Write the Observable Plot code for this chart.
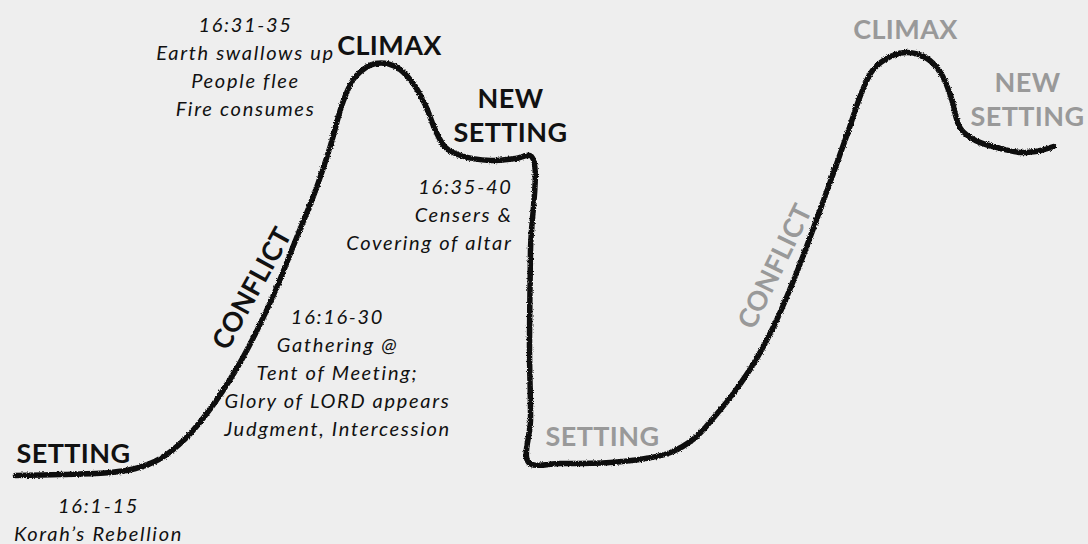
<!DOCTYPE html>
<html><head><meta charset="utf-8">
<script src="https://cdn.jsdelivr.net/npm/d3@7"></script>
<script src="https://cdn.jsdelivr.net/npm/@observablehq/plot@0.6"></script>
<style>
html,body{margin:0;padding:0;background:#eeeeee;}
#chart{width:1088px;height:544px;overflow:hidden;}
</style></head><body><div id="chart"></div>
<script>
// Story-arc line (x right, y down)
const arcX = [15, 60, 110, 135, 160, 185, 210, 235, 255, 275, 295, 315, 330, 343, 355, 375, 395, 412, 425, 435, 445, 460, 490, 515, 531,
              530, 529, 530, 528,
              560, 610, 645, 670, 695, 715, 735, 755, 775, 795, 815, 832, 848, 860, 872, 890, 907, 925, 940, 950, 960, 975, 1000, 1020, 1040, 1053];
const arcY = [475, 474, 472, 468, 458, 438, 408, 370, 333, 290, 240, 190, 145, 100, 76, 63, 66, 82, 105, 130, 147, 155, 160, 158, 156,
              250, 350, 420, 462,
              463, 462, 458, 452, 437, 415, 390, 360, 322, 275, 222, 175, 130, 95, 70, 56, 52, 57, 72, 95, 128, 140, 148, 152, 150, 146];

// Stage labels
const stageNames = ["SETTING", "CONFLICT", "CLIMAX", "NEW\nSETTING"];
const firstArcLabelX = [73, 250, 389, 510];
const firstArcLabelY = [452, 287, 44, 114];
const secondArcLabelX = [602, 773, 905, 1027];
const secondArcLabelY = [435, 265, 28, 98];

// Passage notes
const noteTexts = [
  "16:1-15\nKorah’s Rebellion",
  "16:16-30\nGathering @\nTent of Meeting;\nGlory of LORD appears\nJudgment, Intercession",
  "16:31-35\nEarth swallows up\nPeople flee\nFire consumes",
  "16:35-40\nCensers &\nCovering of altar"
];
const noteX = [98, 337, 245, 512];
const noteY = [518, 371, 65, 213];

const arc = arcX.map((x, i) => ({x, y: arcY[i]}));
const first = stageNames.map((t, i) => ({t, x: firstArcLabelX[i], y: firstArcLabelY[i]}));
const second = stageNames.map((t, i) => ({t, x: secondArcLabelX[i], y: secondArcLabelY[i]}));
const notes = noteTexts.map((t, i) => ({t, x: noteX[i], y: noteY[i]}));

const headFont = {fontFamily: "Lato, sans-serif", fontWeight: "bold", fontSize: 27, lineHeight: 1.26};
const noteFont = {fontFamily: "Lato, sans-serif", fontStyle: "italic", fontSize: 20, lineHeight: 1.4, fill: "#111"};

const chart = Plot.plot({
  width: 1088, height: 544,
  margin: 0,
  style: {background: "#eeeeee", overflow: "visible"},
  x: {domain: [0, 1088], range: [0, 1088], axis: null},
  y: {domain: [0, 544], range: [0, 544], axis: null},
  marks: [
    Plot.line(arc, {x: "x", y: "y", curve: "catmull-rom", stroke: "#0d0d0d", strokeWidth: 5.5, strokeLinejoin: "round", strokeLinecap: "round"}),
    Plot.text(first.filter(d => d.t !== "CONFLICT"), {x: "x", y: "y", text: "t", fill: "#111", ...headFont}),
    Plot.text(first.filter(d => d.t === "CONFLICT"), {x: "x", y: "y", text: "t", fill: "#111", rotate: -61, ...headFont}),
    Plot.text(second.filter(d => d.t !== "CONFLICT"), {x: "x", y: "y", text: "t", fill: "#999999", ...headFont}),
    Plot.text(second.filter(d => d.t === "CONFLICT"), {x: "x", y: "y", text: "t", fill: "#999999", rotate: -64, ...headFont}),
    Plot.text(notes.filter((d, i) => i !== 3), {x: "x", y: "y", text: "t", textAnchor: "middle", ...noteFont}),
    Plot.text(notes.filter((d, i) => i === 3), {x: "x", y: "y", text: "t", textAnchor: "end", ...noteFont})
  ]
});

// chalky texture for the drawn line: fine grain on the edges
const ns = "http://www.w3.org/2000/svg";
const defs = document.createElementNS(ns, "defs");
defs.innerHTML = `<filter id="chalk" x="-5%" y="-5%" width="110%" height="110%">
  <feTurbulence type="fractalNoise" baseFrequency="2.4" numOctaves="1" seed="7" result="n"/>
  <feDisplacementMap in="SourceGraphic" in2="n" scale="3.5" xChannelSelector="R" yChannelSelector="G"/>
</filter>`;
chart.insertBefore(defs, chart.firstChild);
const lineG = chart.querySelector('g[aria-label="line"]');
if (lineG) lineG.setAttribute("filter", "url(#chalk)");
// letter spacing for the labels (the original face is wider)
const textGs = chart.querySelectorAll('g[aria-label="text"]');
textGs.forEach((g, i) => { g.style.letterSpacing = i < 4 ? "0.4px" : "1.7px"; });
document.getElementById("chart").appendChild(chart);
</script></body></html>
